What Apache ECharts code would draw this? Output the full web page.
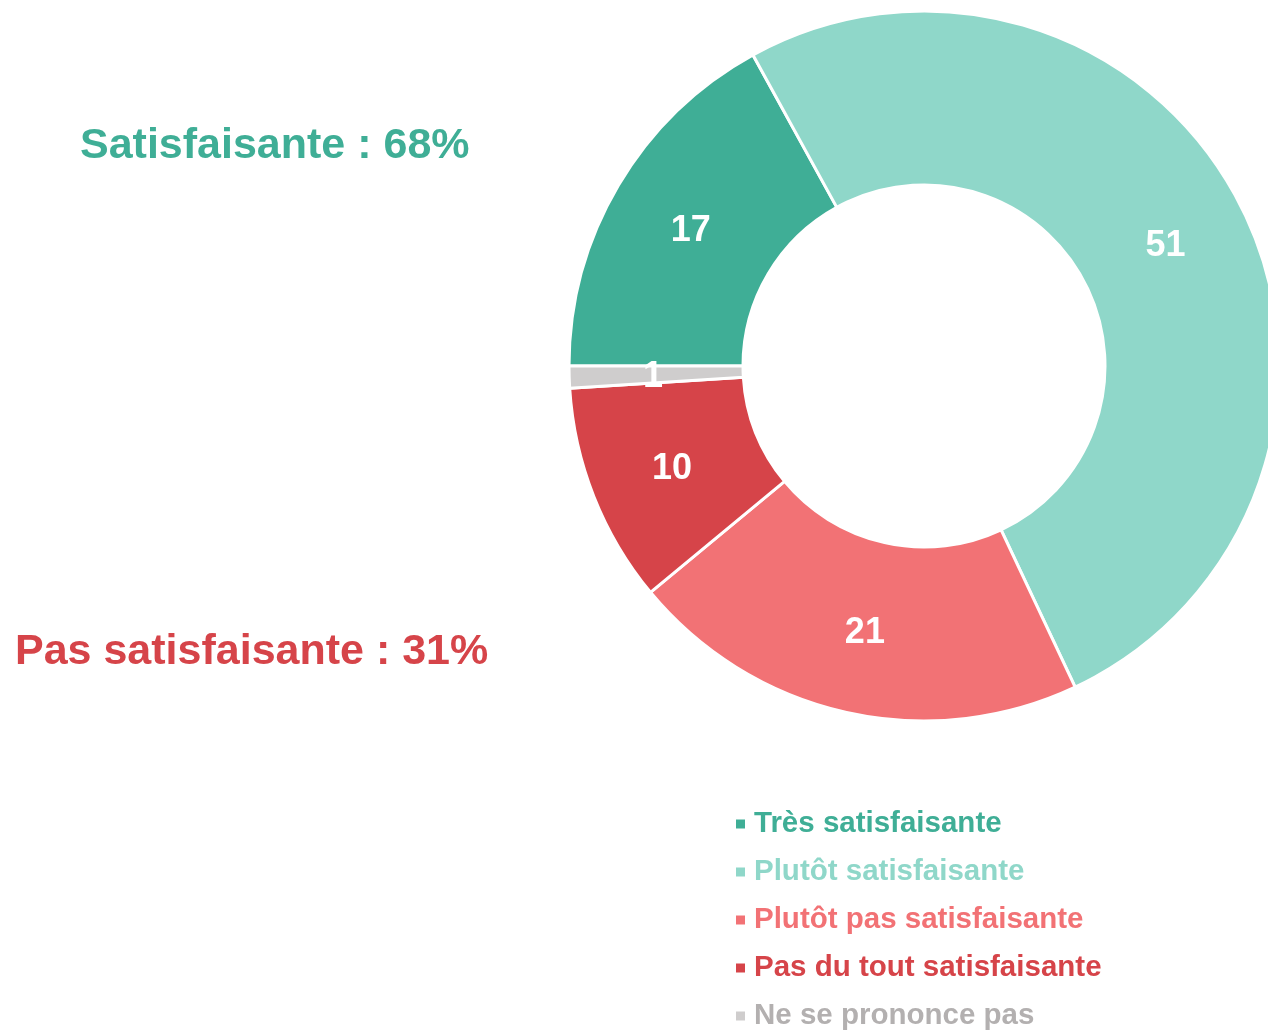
<!DOCTYPE html>
<html>
<head>
<meta charset="utf-8">
<script src="https://cdn.jsdelivr.net/npm/echarts@6/dist/echarts.min.js"></script>
<style>
  html, body { margin: 0; padding: 0; background: #fff; }
  #main { width: 1268px; height: 1032px; }
</style>
</head>
<body>
<div id="main"></div>
<script>
// réponses
var categories = ["Très satisfaisante", "Plutôt satisfaisante", "Plutôt pas satisfaisante", "Pas du tout satisfaisante", "Ne se prononce pas"];
var values = [17, 51, 21, 10, 1];
var colors = ["#3fae96", "#8fd7c9", "#f27275", "#d64449", "#cfcdcd"];
var legendColors = ["#3fae96", "#8fd7c9", "#f27275", "#d64449", "#b3b0b0"];

var font = "'Liberation Sans', Arial, sans-serif";
var satis = values[0] + values[1];
var pasSatis = values[2] + values[3];

var myChart = echarts.init(document.getElementById("main"));

var pieData = [];
var legendData = [];
for (let i = 0; i < categories.length; i++) {
  pieData.push({ name: categories[i], value: values[i], itemStyle: { color: colors[i] } });
  legendData.push({
    name: categories[i],
    textStyle: { color: legendColors[i], fontSize: 29.5, fontWeight: "bold", fontFamily: font, padding: [0, 0, 0, 3] }
  });
}

var option = {
  animation: false,
  legend: {
    orient: "vertical",
    left: 729,
    top: 804,
    height: 240,
    icon: "rect",
    itemWidth: 11,
    itemHeight: 11,
    itemGap: 18,
    textStyle: { fontSize: 29.5, fontWeight: "bold", fontFamily: font },
    data: legendData
  },
  graphic: [
    {
      type: "text",
      x: 80,
      y: 146,
      style: {
        text: "Satisfaisante : " + satis + "%",
        fill: "#3fae96",
        font: "bold 43px " + font,
        verticalAlign: "middle"
      }
    },
    {
      type: "text",
      x: 15,
      y: 652,
      style: {
        text: "Pas satisfaisante : " + pasSatis + "%",
        fill: "#d64449",
        font: "bold 43px " + font,
        verticalAlign: "middle"
      }
    }
  ],
  series: [{
    type: "pie",
    center: [924, 366],
    radius: [181, 355],
    startAngle: 180,
    clockwise: true,
    avoidLabelOverlap: false,
    itemStyle: { borderColor: "#fff", borderWidth: 3 },
    label: {
      show: true,
      position: "inside",
      formatter: "{c}",
      color: "#fff",
      fontSize: 36,
      fontWeight: "bold",
      fontFamily: font,
      offset: [0, 3]
    },
    labelLine: { show: false },
    emphasis: { disabled: true },
    data: pieData
  }]
};
myChart.setOption(option, true);
</script>
</body>
</html>
